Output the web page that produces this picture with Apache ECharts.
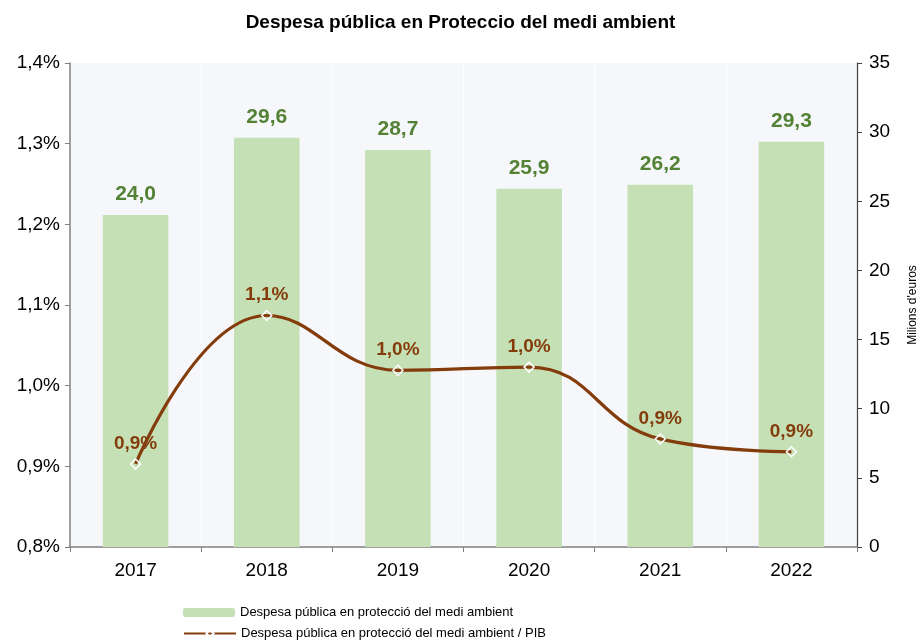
<!DOCTYPE html>
<html>
<head>
<meta charset="utf-8">
<script src="https://cdn.jsdelivr.net/npm/echarts@6/dist/echarts.min.js"></script>
<style>
html,body{margin:0;padding:0;background:#fff;}
#chart{width:921px;height:641px;}
</style>
</head>
<body>
<div id="chart"></div>
<script>
var years=['2017','2018','2019','2020','2021','2022'];
// milions d'euros
var despesa=[24.0, 29.6, 28.7, 25.9, 26.2, 29.3];
// % sobre el PIB
var pib=[0.903, 1.087, 1.019, 1.023, 0.934, 0.918];
var noms=['Despesa pública en protecció del medi ambient','Despesa pública en protecció del medi ambient / PIB'];

function coma(v,d){
    return v.toFixed(d).replace('.',',');
}

var chart=echarts.init(document.getElementById('chart'));
var font='Liberation Sans, Arial, sans-serif';
var legendBase={
    orient:'horizontal',
    left:178,
    itemWidth:52,
    itemHeight:9,
    textStyle:{fontSize:13,color:'#000',fontFamily:font}
};
var option={
    textStyle:{fontFamily:font},
    title:{
        text:'Despesa pública en Proteccio del medi ambient',
        left:'center',
        top:8,
        textStyle:{fontSize:19,fontWeight:'bold',color:'#000',fontFamily:font}
    },
    legend:[
        Object.assign({},legendBase,{top:601,data:[noms[0]]}),
        Object.assign({},legendBase,{top:622,data:[noms[1]]})
    ],
    grid:{
        left:70,right:64,top:63,bottom:94,
        outerBoundsMode:'none',
        containLabel:false,
        show:true,
        backgroundColor:'#F5F7FB',
        borderWidth:0
    },
    xAxis:{
        type:'category',
        data:years,
        axisLine:{lineStyle:{color:'#808080',width:1.5}},
        axisTick:{show:true,length:5,lineStyle:{color:'#808080'}},
        axisLabel:{fontSize:19,color:'#000',margin:14},
        splitLine:{show:true,lineStyle:{color:'#ffffff',width:1}}
    },
    yAxis:[
        {
            type:'value',
            min:0.8,max:1.4,interval:0.1,
            axisLine:{show:true,lineStyle:{color:'#808080',width:1.5}},
            axisTick:{show:true,length:5,lineStyle:{color:'#808080'}},
            axisLabel:{fontSize:19,color:'#000',margin:10,formatter:function(v){return coma(v,1)+'%';}},
            splitLine:{show:false}
        },
        {
            type:'value',
            min:0,max:35,interval:5,
            position:'right',
            name:"Milions d'euros",
            nameLocation:'middle',
            nameRotate:90,
            nameGap:50,
            nameTextStyle:{fontSize:12,color:'#000'},
            axisLine:{show:true,lineStyle:{color:'#404040',width:1.2}},
            axisTick:{show:true,length:5,lineStyle:{color:'#404040'}},
            axisLabel:{fontSize:19,color:'#000',margin:12},
            splitLine:{show:false}
        }
    ],
    series:[
        {
            name:noms[0],
            type:'bar',
            yAxisIndex:1,
            barWidth:'50%',
            itemStyle:{color:'#C5E0B4'},
            label:{
                show:true,position:'top',distance:10,
                fontSize:21,fontWeight:'bold',color:'#548235',
                formatter:function(p){return coma(p.value,1);}
            },
            data:despesa
        },
        {
            name:noms[1],
            type:'line',
            yAxisIndex:0,
            smooth:0.45,
            symbol:'diamond',
            symbolSize:10,
            lineStyle:{color:'#843C0C',width:3.2},
            itemStyle:{color:'rgba(0,0,0,0)',borderColor:'#ffffff',borderWidth:1.5},
            label:{
                show:true,position:'top',distance:5,
                fontSize:19,fontWeight:'bold',color:'#843C0C',
                formatter:function(p){return coma(p.value,1)+'%';}
            },
            z:5,
            data:pib
        }
    ]
};
chart.setOption(option);
</script>
</body>
</html>
